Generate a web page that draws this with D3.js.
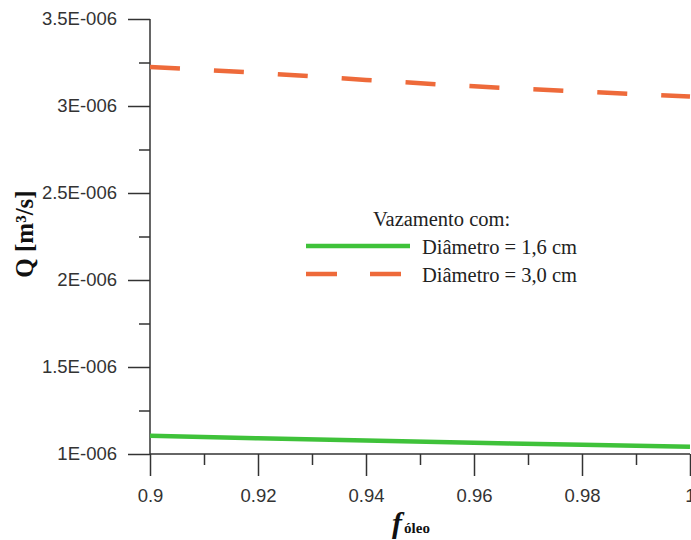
<!DOCTYPE html>
<html>
<head>
<meta charset="utf-8">
<script src="https://cdn.jsdelivr.net/npm/d3@7"></script>
<style>
  body { margin: 0; background: #fff; }
  svg { display: block; }
  .tick text { font-family: "Liberation Sans", Arial, sans-serif; font-size: 18.5px; fill: #333; }
  .legendlabel { font-family: "Liberation Serif", "Times New Roman", serif; font-size: 20.5px; fill: #222; }
</style>
</head>
<body>
<svg id="chart"></svg>
<script>
// values
var fOleo = [0.9, 0.92, 0.94, 0.96, 0.98, 1.0];
var qD16 = [1.105e-6, 1.090e-6, 1.077e-6, 1.065e-6, 1.053e-6, 1.042e-6];
var qD30 = [3.224e-6, 3.190e-6, 3.150e-6, 3.113e-6, 3.083e-6, 3.054e-6];
var xTicks = [0.9, 0.92, 0.94, 0.96, 0.98, 1];
var xMinor = [0.91, 0.93, 0.95, 0.97, 0.99];
var yTicks = [1e-6, 1.5e-6, 2e-6, 2.5e-6, 3e-6, 3.5e-6];
var yMinor = [1.25e-6, 1.75e-6, 2.25e-6, 2.75e-6, 3.25e-6];
var yTickLabels = ["1E-006", "1.5E-006", "2E-006", "2.5E-006", "3E-006", "3.5E-006"];
var seriesNames = ["Diâmetro = 1,6 cm", "Diâmetro = 3,0 cm"];
var legendTitle = "Vazamento com:";

var width = 691, height = 540;
var green = "#3fc23a", orange = "#ee6a3a", axisColor = "#333";

var svg = d3.select("#chart")
    .attr("width", width)
    .attr("height", height);

//scales
var x = d3.scaleLinear().domain([0.9, 1]).range([150, 690]);
var y = d3.scaleLinear().domain([1e-6, 3.5e-6]).range([454, 19]);

//y axis, major ticks with labels
var yAxis = svg.append("g")
    .attr("transform", "translate(150,0)")
    .call(d3.axisLeft(y)
        .tickValues(yTicks)
        .tickSize(22)
        .tickPadding(11)
        .tickFormat(function (d, i) { return yTickLabels[i]; }));
//y minor ticks
var yAxisMinor = svg.append("g")
    .attr("transform", "translate(150,0)")
    .call(d3.axisLeft(y).tickValues(yMinor).tickSize(11).tickFormat(""));

//x axis
var xAxis = svg.append("g")
    .attr("transform", "translate(0,454)")
    .call(d3.axisBottom(x)
        .tickValues(xTicks)
        .tickSize(22)
        .tickPadding(13)
        .tickFormat(d3.format("")));
var xAxisMinor = svg.append("g")
    .attr("transform", "translate(0,454)")
    .call(d3.axisBottom(x).tickValues(xMinor).tickSize(11).tickFormat(""));

[yAxis, yAxisMinor, xAxis, xAxisMinor].forEach(function (a) {
    a.select(".domain").remove();
    a.selectAll("line").attr("stroke", axisColor).attr("stroke-width", 1.5);
});
// axis lines
svg.append("line").attr("x1", 150).attr("x2", 150).attr("y1", 19).attr("y2", 454)
    .attr("stroke", axisColor).attr("stroke-width", 1.5);
svg.append("line").attr("x1", 150).attr("x2", 690).attr("y1", 454).attr("y2", 454)
    .attr("stroke", axisColor).attr("stroke-width", 1.5);

//lines
var line = d3.line()
    .x(function (d) { return x(d[0]); })
    .y(function (d) { return y(d[1]); })
    .curve(d3.curveMonotoneX);

svg.append("path")
    .datum(fOleo.map(function (f, i) { return [f, qD16[i]]; }))
    .attr("d", line)
    .attr("fill", "none")
    .attr("stroke", green)
    .attr("stroke-width", 4.5);

svg.append("path")
    .datum(fOleo.map(function (f, i) { return [f, qD30[i]]; }))
    .attr("d", line)
    .attr("fill", "none")
    .attr("stroke", orange)
    .attr("stroke-width", 4.5)
    .attr("stroke-dasharray", "30,34");

//axis titles
svg.append("text")
    .attr("transform", "translate(33,234) rotate(-90)")
    .attr("text-anchor", "middle")
    .style("font-family", "'Liberation Serif', 'Times New Roman', serif")
    .style("font-weight", "bold")
    .style("font-size", "25px")
    .style("fill", "#111")
    .text("Q [m³/s]");

var xt = svg.append("text")
    .attr("x", 411)
    .attr("y", 533)
    .attr("text-anchor", "middle")
    .style("font-family", "'Liberation Serif', 'Times New Roman', serif")
    .style("font-weight", "bold")
    .style("fill", "#111");
xt.append("tspan").style("font-style", "italic").style("font-size", "30px").text("f");
xt.append("tspan").style("font-size", "15px").attr("dx", 2).text("óleo");

//legend
var legend = svg.append("g").attr("class", "legend");
legend.append("text")
    .attr("class", "legendlabel")
    .attr("x", 373).attr("y", 226)
    .text(legendTitle);

legend.append("line")
    .attr("x1", 306).attr("x2", 410).attr("y1", 246).attr("y2", 246)
    .attr("stroke", green).attr("stroke-width", 4.5);
legend.append("line")
    .attr("x1", 306).attr("x2", 402).attr("y1", 274).attr("y2", 274)
    .attr("stroke", orange).attr("stroke-width", 4.5)
    .attr("stroke-dasharray", "31,33");

legend.selectAll("text.item")
    .data(seriesNames)
    .enter().append("text")
    .attr("class", "legendlabel item")
    .attr("x", 422)
    .attr("y", function (d, i) { return 254 + i * 28; })
    .text(function (d) { return d; });
</script>
</body>
</html>
